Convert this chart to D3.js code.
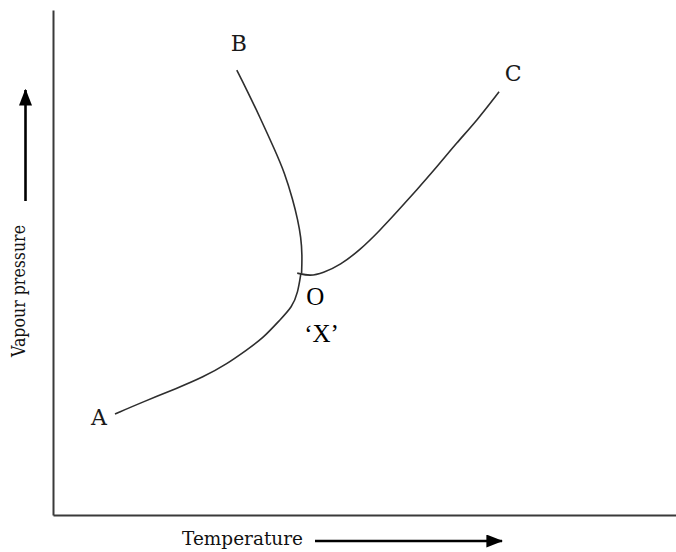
<!DOCTYPE html>
<html>
<head>
<meta charset="utf-8">
<script src="https://cdn.jsdelivr.net/npm/d3@7"></script>
<style>
  html, body { margin: 0; padding: 0; background: #fff; }
  svg { display: block; }
</style>
</head>
<body>
<svg id="chart" width="676" height="552"></svg>
<script>
// curve points, in arbitrary units (temperature, vapour pressure) 0..100
const curveA = [
  [9.95, 20.0], [14.45, 22.4], [19.9, 25.1], [24.1, 27.3], [27.9, 29.9],
  [31.1, 32.7], [33.7, 35.0], [36.4, 38.6], [38.4, 41.2], [39.3, 44.0], [39.8, 47.9]
];
const curveB = [
  [29.5, 88.1], [31.1, 84.2], [33.2, 78.8], [35.6, 72.3], [37.2, 67.7],
  [38.5, 62.4], [39.3, 58.4], [39.8, 55.0], [40.0, 51.5], [39.9, 47.9]
];
const curveC = [
  [39.2, 47.9], [41.3, 47.3], [43.3, 47.9], [46.1, 49.5], [49.3, 52.5],
  [52.5, 56.4], [55.2, 60.0], [58.4, 64.4], [61.6, 68.9], [64.8, 73.7],
  [68.1, 78.2], [71.6, 83.8]
];
const curveNames = ["A", "B", "C"];
const pointName = "O";
const regionName = "\u2018X\u2019";
const xLabel = "Temperature";
const yLabel = "Vapour pressure";

const width = 676, height = 552;
const margin = { top: 10, right: 0, bottom: 37, left: 53 };

const svg = d3.select("#chart");

const x = d3.scaleLinear().domain([0, 100]).range([margin.left, width - margin.right]);
const y = d3.scaleLinear().domain([0, 100]).range([height - margin.bottom, margin.top]);

// axes (plain lines, no ticks)
const gAxes = svg.append("g");
gAxes.append("g")
  .attr("transform", "translate(0," + y(0) + ")")
  .call(d3.axisBottom(x).tickValues([]).tickSizeOuter(0))
  .select(".domain").attr("stroke", "#3a3a3a").attr("stroke-width", 2);
gAxes.append("g")
  .attr("transform", "translate(" + x(0) + ",0)")
  .call(d3.axisLeft(y).tickValues([]).tickSizeOuter(0))
  .select(".domain").attr("stroke", "#3a3a3a").attr("stroke-width", 2);

// curves
const line = d3.line()
  .x((d) => x(d[0]))
  .y((d) => y(d[1]))
  .curve(d3.curveBasis);

svg.append("g")
  .selectAll("path")
  .data([curveA, curveB, curveC])
  .join("path")
  .attr("d", line)
  .attr("fill", "none")
  .attr("stroke", "#2e2e2e")
  .attr("stroke-width", 1.6);

// curve labels
const labelFont = "'DejaVu Serif', serif";
const ends = [
  { p: curveA[0], dx: -16, dy: 11 },
  { p: curveB[0], dx: 2, dy: -19 },
  { p: curveC[curveC.length - 1], dx: 14, dy: -11 }
];
svg.append("g")
  .selectAll("text")
  .data(ends)
  .join("text")
  .attr("x", (d) => x(d.p[0]) + d.dx)
  .attr("y", (d) => y(d.p[1]) + d.dy)
  .attr("text-anchor", "middle")
  .attr("font-family", labelFont)
  .attr("font-size", 22)
  .attr("fill", "#1a1a1a")
  .text((d, i) => curveNames[i]);

// triple point labels
const tp = curveC[0];
svg.append("text")
  .attr("x", x(tp[0]) + 9)
  .attr("y", y(tp[1]) + 32)
  .attr("font-family", "'Liberation Serif', 'Times New Roman', serif")
  .attr("font-size", 25)
  .attr("fill", "#000")
  .text(pointName);
svg.append("text")
  .attr("x", x(tp[0]) + 7)
  .attr("y", y(tp[1]) + 69)
  .attr("font-family", "'Liberation Serif', 'Times New Roman', serif")
  .attr("font-size", 25)
  .attr("fill", "#000")
  .text(regionName);

// axis titles with arrows
svg.append("defs").append("marker")
  .attr("id", "arrow")
  .attr("viewBox", "0 0 13 10")
  .attr("refX", 12).attr("refY", 5)
  .attr("markerWidth", 6.5).attr("markerHeight", 5)
  .attr("markerUnits", "strokeWidth")
  .attr("orient", "auto")
  .append("path")
  .attr("d", "M0,0L13,5L0,10z")
  .attr("fill", "#000");

svg.append("text")
  .attr("x", 182)
  .attr("y", 545)
  .attr("font-family", labelFont)
  .attr("font-size", 19)
  .attr("textLength", 121)
  .attr("lengthAdjust", "spacingAndGlyphs")
  .attr("fill", "#111")
  .text(xLabel);
svg.append("line")
  .attr("x1", 315).attr("y1", 541)
  .attr("x2", 502).attr("y2", 541)
  .attr("stroke", "#000").attr("stroke-width", 2.6)
  .attr("marker-end", "url(#arrow)");

svg.append("text")
  .attr("transform", "translate(25,357) rotate(-90)")
  .attr("font-family", labelFont)
  .attr("font-size", 19)
  .attr("textLength", 132)
  .attr("lengthAdjust", "spacingAndGlyphs")
  .attr("fill", "#111")
  .text(yLabel);
svg.append("line")
  .attr("x1", 25.5).attr("y1", 201)
  .attr("x2", 25.5).attr("y2", 90)
  .attr("stroke", "#000").attr("stroke-width", 2.6)
  .attr("marker-end", "url(#arrow)");
</script>
</body>
</html>
